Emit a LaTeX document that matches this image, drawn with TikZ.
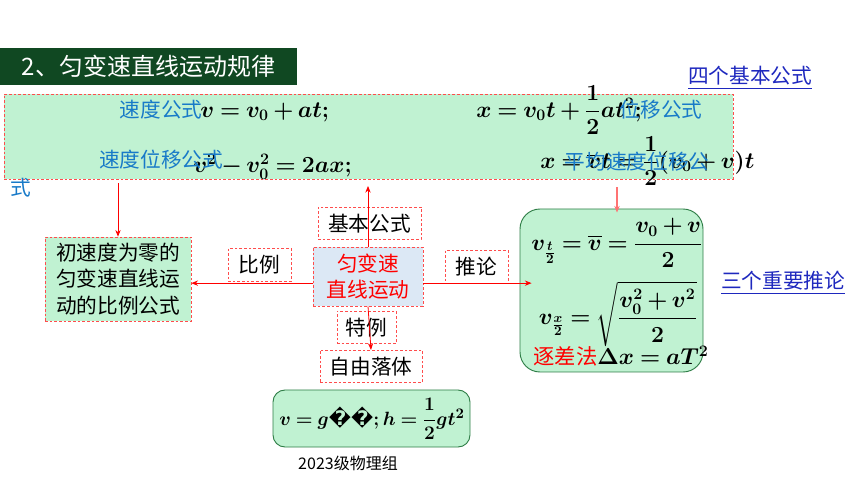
\documentclass[tikz,border=0pt]{standalone}
\usepackage{amsmath}
\usepackage{amssymb}
\usepackage[no-math]{fontspec}
\setmainfont{Noto Sans CJK SC}
\newfontfamily\repfont{DejaVu Sans}
\usetikzlibrary{arrows.meta}
\DeclareMathSizes{16}{16}{12}{10}
\DeclareMathSizes{15}{15}{11}{9}
\newcommand\tightmath{\thickmuskip=4mu\relax\medmuskip=3mu\relax}

\definecolor{bannergreen}{RGB}{16,72,34}
\definecolor{mintfill}{RGB}{192,242,210}
\definecolor{skyfill}{RGB}{220,232,245}
\definecolor{labelblue}{RGB}{24,122,200}
\definecolor{linkblue}{RGB}{30,40,190}
\definecolor{edgegreen}{RGB}{46,125,70}

\begin{document}
\begin{tikzpicture}[
    x=0.75pt, y=-0.75pt,
    >={Stealth[length=5pt,width=4pt]},
    every node/.style={font=\fontsize{15.5}{20}\selectfont, inner sep=0pt},
    dashbox/.style={draw=red!70, line width=0.5pt, dash pattern=on 2pt off 1.5pt, align=center},
    tag/.style={dashbox, minimum height=24.5pt},
    mathtext/.style={font=\fontsize{16}{19}\selectfont\boldmath\tightmath},
    bluetext/.style={text=labelblue},
    linktext/.style={text=linkblue},
    roundbox/.style={draw=edgegreen, line width=0.7pt, fill=mintfill}
]
\useasboundingbox (0,0) rectangle (860,484);

% Title banner
\node[fill=bannergreen, text=white, minimum width=222.75pt, minimum height=27.75pt,
      font=\fontsize{18}{22}\selectfont] (title) at (148.5,66.5) {2、匀变速直线运动规律};

% Four basic formulas
\node[dashbox, fill=mintfill, minimum width=546.75pt, minimum height=63.75pt] (formulas) at (368.5,136.5) {};
\node[linktext] (fourlink) at (750,78) {\underline{四个基本公式}};

\node[mathtext, anchor=west] (velo) at (200,112) {$v=v_0+at;$};
\node[bluetext] (velolabel) at (161,110) {速度公式};
\node[mathtext, anchor=west] (velodisp) at (193,167) {$v^2-v_0^2=2ax;$};
\node[bluetext] (velodisplabel) at (161,160) {速度位移公式};
\node[bluetext] (wrapped) at (21,188) {式};

\node[mathtext, anchor=west] (disp) at (476,110) {$x=v_0t+\dfrac{1}{2}at^2;$};
\node[bluetext] (displabel) at (661,110) {位移公式};
\node[mathtext, anchor=west] (avgdisp) at (540,161) {$x=\overline{v}t=\dfrac{1}{2}(v_0+v)t$};
\node[bluetext] (avgdisplabel) at (637,162) {平均速度位移公};

% Centre topic
\node[dashbox, fill=skyfill, text=red, minimum width=82.5pt, minimum height=44.25pt] (motion) at (368,276.5) {匀变速\\直线运动};

% Edge labels
\node[tag, minimum width=77.25pt] (basic) at (369.5,223.5) {基本公式};
\node[tag, minimum width=47.25pt] (ratio) at (259.5,265) {比例};
\node[tag, minimum width=47.25pt] (infer) at (476.5,267) {推论};
\node[tag, minimum width=44.25pt] (special) at (366.5,327.5) {特例};

% Ratio formulas
\node[dashbox, fill=mintfill, minimum width=109.5pt, minimum height=63pt] (ratiobox) at (118,279) {初速度为零的\\匀变速直线运\\动的比例公式};

% Three inferences
\node[roundbox, rounded corners=15pt, minimum width=137.25pt, minimum height=122.25pt] (inferbox) at (611.5,290.5) {};
\node[mathtext] (midtime) at (617,243) {$v_{\frac{t}{2}}=\overline{v}=\dfrac{v_0+v}{2}$};
\node[mathtext] (midplace) at (618,314) {$v_{\frac{x}{2}}=\sqrt{\dfrac{v_0^2+v^2}{2}}$};
\node[mathtext] (diffrule) at (621,356) {\textcolor{red}{逐差法}$\Delta x=aT^2$};
\node[linktext] (threelink) at (783,283) {\underline{三个重要推论}};

% Free fall
\node[tag, minimum width=76.5pt] (fall) at (371,366.5) {自由落体};
\node[roundbox, rounded corners=9pt, minimum width=147.75pt, minimum height=42.75pt] (fallbox) at (371.5,418.5) {};
\node[mathtext, font=\fontsize{15}{18}\selectfont\boldmath\tightmath] (fallformula) at (372,419) {$v=g${\repfont\bfseries ��}$;h=\dfrac{1}{2}gt^2$};

% Footer
\node[font=\fontsize{12}{14}\selectfont] (footer) at (348,463) {2023级物理组};

% Arrows
\draw[red, line width=0.6pt, ->, shorten >=5pt] (motion.north) -- (motion.north |- formulas.south);
\draw[red, line width=0.6pt, ->, shorten <=3pt] (ratiobox.north |- formulas.south) -- (ratiobox.north);
\draw[red!55, line width=0.8pt, ->, shorten <=6pt, shorten >=-3pt] (midtime.north |- formulas.south) -- (midtime.north |- inferbox.north);
\draw[red, line width=0.6pt, ->] ([yshift=-5pt]motion.west) -- ([yshift=-5pt]motion.west -| ratiobox.east);
\draw[red, line width=0.6pt, ->, shorten >=-9pt] ([yshift=-5pt]motion.east) -- ([yshift=-5pt]motion.east -| inferbox.west);
\draw[red, line width=0.6pt, ->] (motion.south) -- (fall.north);

\end{tikzpicture}
\end{document}
